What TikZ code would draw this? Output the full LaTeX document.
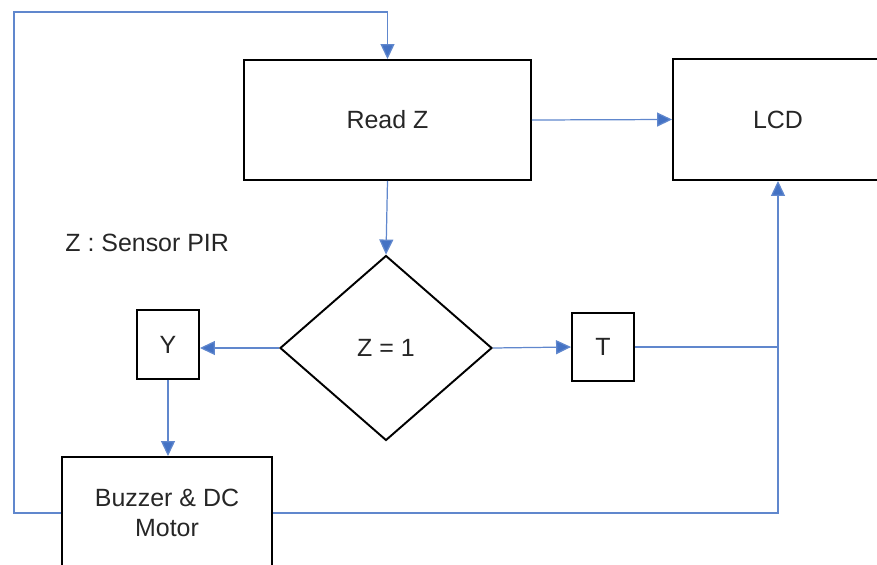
\documentclass[tikz,border=0pt]{standalone}
\usepackage{fontspec}
\setmainfont{Liberation Sans}
\usetikzlibrary{shapes.geometric,arrows.meta}
\definecolor{flowblue}{HTML}{4472C4}
\definecolor{textgray}{HTML}{262626}

\begin{document}
\begin{tikzpicture}[x=0.02cm,y=-0.02cm,
    font=\fontsize{14.2}{17}\selectfont,
    block/.style={draw=black,line width=1.1pt,text=textgray,align=center,inner sep=0pt},
    decision/.style={diamond,draw=black,line width=1.1pt,text=textgray,inner sep=0pt,
      minimum width=4.24cm,minimum height=3.7cm},
    flow/.style={draw=flowblue!85,line width=0.7pt,-{Triangle[length=3mm,width=2.8mm,fill=flowblue]}},
    wire/.style={draw=flowblue!85,line width=0.7pt}]
  \useasboundingbox (0,0) rectangle (877,565);

  \node[block,minimum width=5.74cm,minimum height=2.4cm] (readz) at (387.5,120) {Read Z};
  \node[block,minimum width=4.2cm,minimum height=2.42cm] (lcd) at (778,119.5) {LCD};
  \node[decision] (dec) at (386,348) {Z = 1};
  \node[block,minimum width=1.24cm,minimum height=1.38cm] (y) at (168,344.5) {Y};
  \node[block,minimum width=1.24cm,minimum height=1.36cm] (t) at (603,347) {T};
  \node[block,minimum width=4.2cm,minimum height=2.24cm] (buzzer) at (167,513) {Buzzer \& DC\\Motor};
  \node[text=textgray,anchor=west,inner sep=0pt] (note) at (65,243) {Z : Sensor PIR};

  \coordinate (loop) at (14,12);
  \coordinate (join) at (lcd.south |- t.east);

  \draw[flow] (buzzer.west) -| (loop) -| (readz.north);
  \draw[flow] (readz.east) -- (lcd.west);
  \draw[flow] (readz.south) -- (dec.north);
  \draw[flow] (dec.west) -- (dec.west -| y.east);
  \draw[flow] (dec.east) -- (t.west);
  \draw[flow] (t.east) -| (lcd.south);
  \draw[wire] (buzzer.east) -| (join);
  \draw[flow] (y.south) -- (y.south |- buzzer.north);
\end{tikzpicture}
\end{document}
